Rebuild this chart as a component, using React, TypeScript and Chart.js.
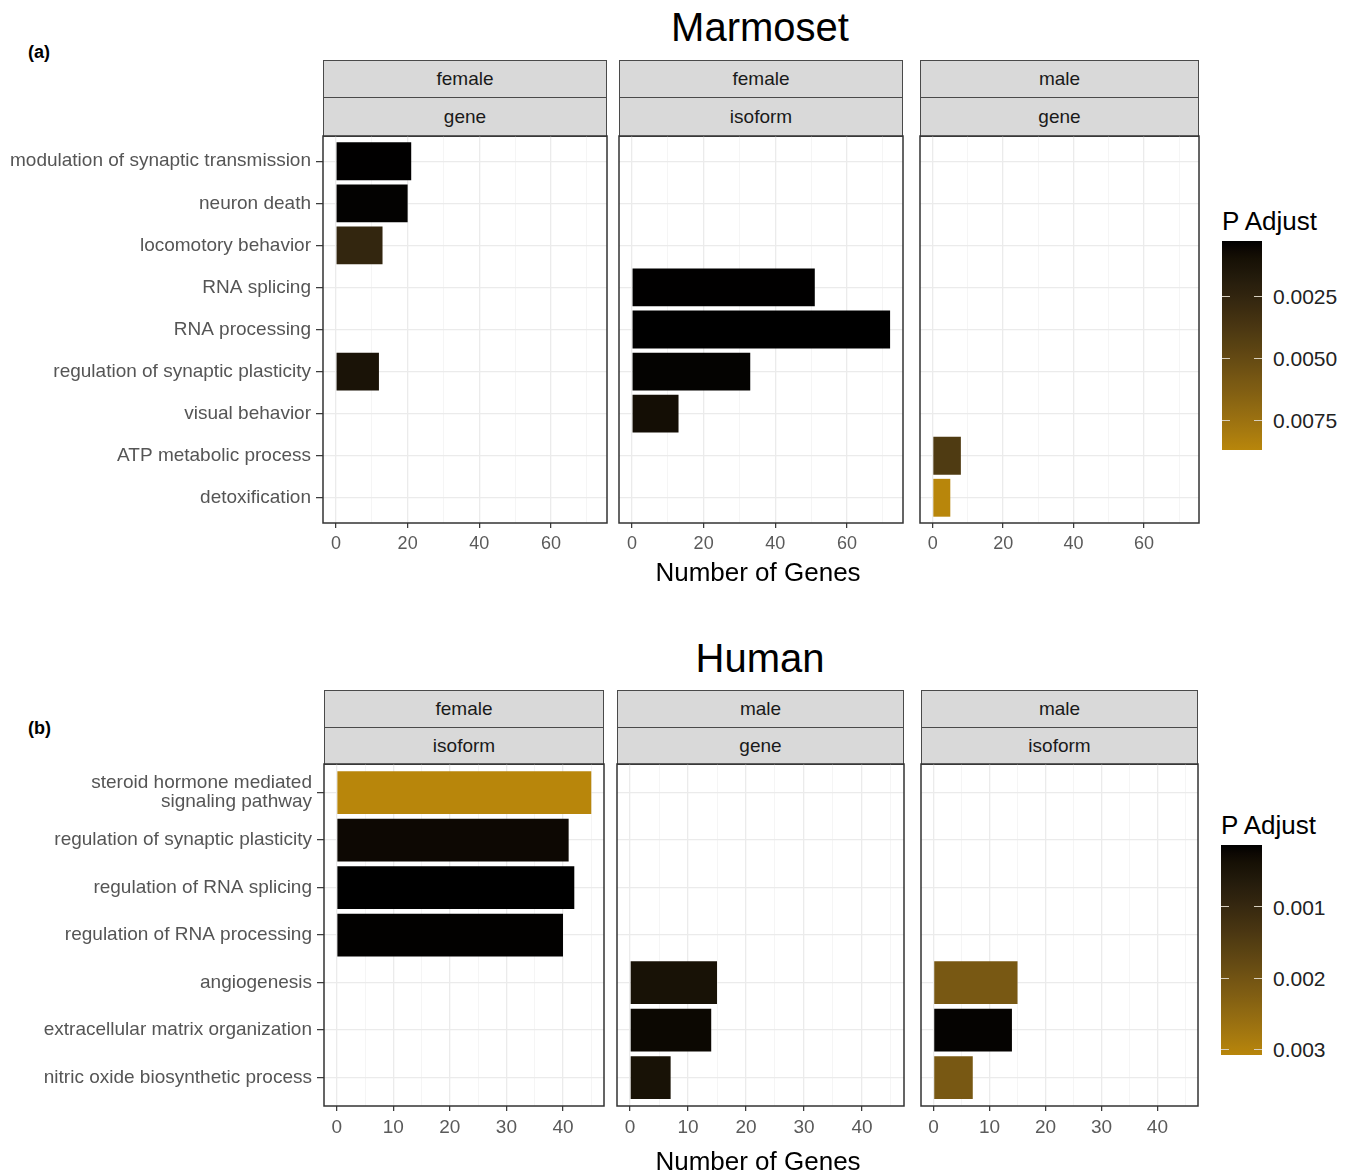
import React, { useEffect, useRef } from 'react';
import { Chart, registerables } from 'chart.js';

Chart.register(...registerables);

const FONT = '"Liberation Sans", Arial, Helvetica, sans-serif';

// ---------------- Marmoset data ----------------
const marmosetCategories = [
  'modulation of synaptic transmission',
  'neuron death',
  'locomotory behavior',
  'RNA splicing',
  'RNA processing',
  'regulation of synaptic plasticity',
  'visual behavior',
  'ATP metabolic process',
  'detoxification',
];
const marmosetFemaleGeneCount = [21, 20, 13, null, null, 12, null, null, null];
const marmosetFemaleGenePAdj = [0.0003, 0.00035, 0.0026, null, null, 0.0012, null, null, null];
const marmosetFemaleIsoformCount = [null, null, null, 51, 72, 33, 13, null, null];
const marmosetFemaleIsoformPAdj = [null, null, null, 0.0003, 0.00028, 0.0004, 0.0009, null, null];
const marmosetMaleGeneCount = [null, null, null, null, null, null, null, 8, 5];
const marmosetMaleGenePAdj = [null, null, null, null, null, null, null, 0.004, 0.0087];
const marmosetMajorTicks = [0, 20, 40, 60];
const marmosetMinorTicks = [10, 30, 50, 70];
const marmosetLegendTicks = [0.0025, 0.005, 0.0075];
const marmosetLegendLabels = ['0.0025', '0.0050', '0.0075'];

// ---------------- Human data ----------------
const humanCategories = [
  ['steroid hormone mediated', 'signaling pathway'],
  'regulation of synaptic plasticity',
  'regulation of RNA splicing',
  'regulation of RNA processing',
  'angiogenesis',
  'extracellular matrix organization',
  'nitric oxide biosynthetic process',
];
const humanFemaleIsoformCount = [45, 41, 42, 40, null, null, null];
const humanFemaleIsoformPAdj = [0.00308, 0.00025, 0.00013, 0.00015, null, null, null];
const humanMaleGeneCount = [null, null, null, null, 15, 14, 7];
const humanMaleGenePAdj = [null, null, null, null, 0.00042, 0.00024, 0.00042];
const humanMaleIsoformCount = [null, null, null, null, 15, 14, 7];
const humanMaleIsoformPAdj = [null, null, null, null, 0.0021, 0.00018, 0.0021];
const humanMajorTicks = [0, 10, 20, 30, 40];
const humanMinorTicks = [5, 15, 25, 35, 45];
const humanLegendTicks = [0.001, 0.002, 0.003];
const humanLegendLabels = ['0.001', '0.002', '0.003'];

// ---------------- colour scale (CIELAB interpolation, like ggplot) ----------------
const LOW_HEX = '#000000';
const HIGH_HEX = '#B8860B';

function hexToRgb(h: string) {
  const n = parseInt(h.slice(1), 16);
  return [(n >> 16) & 255, (n >> 8) & 255, n & 255];
}
function toLin(c: number) {
  c /= 255;
  return c <= 0.04045 ? c / 12.92 : Math.pow((c + 0.055) / 1.055, 2.4);
}
function fromLin(v: number) {
  v = v <= 0.0031308 ? 12.92 * v : 1.055 * Math.pow(v, 1 / 2.4) - 0.055;
  return Math.round(Math.max(0, Math.min(1, v)) * 255);
}
function rgbToLab(rgb: number[]) {
  const [r, g, b] = rgb.map(toLin);
  const X = (0.4124 * r + 0.3576 * g + 0.1805 * b) / 0.95047;
  const Y = 0.2126 * r + 0.7152 * g + 0.0722 * b;
  const Z = (0.0193 * r + 0.1192 * g + 0.9505 * b) / 1.08883;
  const f = (t: number) => (t > 0.008856 ? Math.cbrt(t) : 7.787 * t + 16 / 116);
  const fx = f(X), fy = f(Y), fz = f(Z);
  return [116 * fy - 16, 500 * (fx - fy), 200 * (fy - fz)];
}
function labToRgb(lab: number[]) {
  const [L, a, b] = lab;
  const fy = (L + 16) / 116;
  const fx = fy + a / 500;
  const fz = fy - b / 200;
  const finv = (t: number) => (t * t * t > 0.008856 ? t * t * t : (t - 16 / 116) / 7.787);
  const X = finv(fx) * 0.95047, Y = finv(fy), Z = finv(fz) * 1.08883;
  const r = 3.2406 * X - 1.5372 * Y - 0.4986 * Z;
  const g = -0.9689 * X + 1.8758 * Y + 0.0415 * Z;
  const bb = 0.0557 * X - 0.204 * Y + 1.057 * Z;
  return `rgb(${fromLin(r)},${fromLin(g)},${fromLin(bb)})`;
}
const LOW_LAB = rgbToLab(hexToRgb(LOW_HEX));
const HIGH_LAB = rgbToLab(hexToRgb(HIGH_HEX));
function colorAt(v: number, lo: number, hi: number) {
  const t = Math.max(0, Math.min(1, (v - lo) / (hi - lo)));
  return labToRgb(LOW_LAB.map((l, i) => l + (HIGH_LAB[i] - l) * t));
}

function rangeOf(arrs: (number | null)[][]) {
  const vals = arrs.flat().filter((v) => v != null) as number[];
  return [Math.min(...vals), Math.max(...vals)];
}

type Panel = { x0: number; x1: number; y0: number; y1: number };

const panelBorder = {
  id: 'panelBorder',
  afterDraw(chart: any) {
    const { ctx, chartArea: a } = chart;
    ctx.save();
    ctx.strokeStyle = '#333333';
    ctx.lineWidth = 1.5;
    ctx.strokeRect(a.left, a.top, a.right - a.left, a.bottom - a.top);
    ctx.restore();
  },
};

function Facet(props: {
  panel: Panel;
  canvasLeft: number;
  categories: (string | string[])[];
  counts: (number | null)[];
  padj: (number | null)[];
  colorLimits: number[];
  xRange: number[];
  majorTicks: number[];
  minorTicks: number[];
  showY: boolean;
  xFontSize: number;
}) {
  const ref = useRef<HTMLCanvasElement>(null);
  const { panel, canvasLeft } = props;
  const top = panel.y0 - 4;
  const width = panel.x1 + 4 - canvasLeft;
  const axisH = 44;
  const height = panel.y1 + axisH - top;

  useEffect(() => {
    const { categories, counts, padj, colorLimits, xRange, majorTicks, minorTicks, showY, xFontSize } = props;
    const pts = counts.flatMap((c, i) => (c == null ? [] : [{ x: c, y: i, p: padj[i] as number }]));
    const isMajor = (v: number) => majorTicks.includes(v);
    const chart = new Chart(ref.current as HTMLCanvasElement, {
      type: 'bar',
      data: {
        datasets: [
          {
            data: pts.map((p) => ({ x: p.x, y: p.y })),
            backgroundColor: pts.map((p) => colorAt(p.p, colorLimits[0], colorLimits[1])),
            borderWidth: 0,
            categoryPercentage: 1,
            barPercentage: 0.9,
          } as any,
        ],
      },
      options: {
        indexAxis: 'y',
        responsive: false,
        animation: false,
        events: [],
        layout: { padding: { top: 4, right: 4, left: 0, bottom: 0 }, autoPadding: false } as any,
        plugins: { legend: { display: false }, tooltip: { enabled: false }, title: { display: false } },
        scales: {
          x: {
            type: 'linear',
            min: xRange[0],
            max: xRange[1],
            offset: false,
            afterBuildTicks: (s: any) => {
              s.ticks = [...majorTicks, ...minorTicks].sort((a, b) => a - b).map((v) => ({ value: v }));
            },
            afterFit: (s: any) => {
              s.height = axisH;
              s.paddingLeft = 0;
              s.paddingRight = 0;
            },
            grid: {
              offset: false,
              color: (c: any) => (c.tick && isMajor(c.tick.value) ? '#ebebeb' : '#f3f3f3'),
              lineWidth: (c: any) => (c.tick && isMajor(c.tick.value) ? 1.3 : 0.8),
              tickColor: (c: any) => (c.tick && isMajor(c.tick.value) ? '#333333' : 'rgba(0,0,0,0)'),
              tickWidth: 1.2,
              tickLength: 5,
              drawTicks: true,
            },
            border: { display: false },
            ticks: {
              autoSkip: false,
              maxRotation: 0,
              padding: 5,
              color: '#5a5a5a',
              font: { family: FONT, size: xFontSize },
              callback: (v: any) => (isMajor(Number(v)) ? String(v) : ''),
            },
          } as any,
          y: {
            type: 'linear',
            reverse: true,
            offset: false,
            min: -0.6,
            max: categories.length - 0.4,
            afterBuildTicks: (s: any) => {
              s.ticks = categories.map((_, i) => ({ value: i }));
            },
            afterFit: (s: any) => {
              s.width = panel.x0 - canvasLeft;
              s.paddingTop = 0;
              s.paddingBottom = 0;
            },
            grid: {
              offset: false,
              color: '#ebebeb',
              lineWidth: 1.3,
              drawTicks: showY,
              tickLength: 7,
              tickColor: '#333333',
              tickWidth: 1.2,
            },
            border: { display: false },
            ticks: {
              display: showY,
              autoSkip: false,
              padding: 5,
              color: '#555555',
              font: { family: FONT, size: 19, lineHeight: 1.0 },
              callback: (v: any) => categories[Number(v)] as any,
            },
          } as any,
        },
      },
      plugins: [panelBorder],
    });
    return () => chart.destroy();
  }, []);

  return (
    <canvas
      ref={ref}
      width={width}
      height={height}
      style={{ position: 'absolute', left: canvasLeft, top, width, height }}
    />
  );
}

function Txt(props: {
  x: number;
  y: number;
  size: number;
  color?: string;
  anchor?: 'start' | 'middle' | 'end';
  bold?: boolean;
  children: any;
}) {
  const { x, y, size, color = '#000', anchor = 'middle', bold = false } = props;
  const tx = anchor === 'middle' ? '-50%' : anchor === 'end' ? '-100%' : '0';
  return (
    <div
      style={{
        position: 'absolute',
        left: x,
        top: y,
        transform: `translate(${tx}, -50%)`,
        fontFamily: FONT,
        fontSize: size,
        color,
        whiteSpace: 'nowrap',
        lineHeight: 1,
        fontWeight: bold ? 700 : 400,
      }}
    >
      {props.children}
    </div>
  );
}

function Strips(props: { panel: Panel; labels: string[]; top: number; h1: number; h2: number }) {
  const { panel, labels, top, h1, h2 } = props;
  const w = panel.x1 - panel.x0;
  const boxes = [
    { y: top, h: h1 + 1, text: labels[0] },
    { y: top + h1, h: h2 + 1, text: labels[1] },
  ];
  return (
    <>
      {boxes.map((b, i) => (
        <div
          key={i}
          style={{
            position: 'absolute',
            left: panel.x0,
            top: b.y,
            width: w,
            height: b.h,
            boxSizing: 'border-box',
            background: '#d9d9d9',
            border: '1.5px solid #4a4a4a',
            display: 'flex',
            alignItems: 'center',
            justifyContent: 'center',
            fontFamily: FONT,
            fontSize: 19,
            color: '#1a1a1a',
          }}
        >
          {b.text}
        </div>
      ))}
    </>
  );
}

function ColorBar(props: {
  x: number;
  y: number;
  w: number;
  h: number;
  limits: number[];
  ticks: number[];
  labels: string[];
}) {
  const { x, y, w, h, limits, ticks, labels } = props;
  const stops: string[] = [];
  const n = 24;
  for (let i = 0; i <= n; i++) {
    const v = limits[0] + ((limits[1] - limits[0]) * i) / n;
    stops.push(`${colorAt(v, limits[0], limits[1])} ${((i / n) * 100).toFixed(2)}%`);
  }
  const tickW = w / 5;
  return (
    <>
      <Txt x={x} y={y - 20} size={26} anchor="start">
        P Adjust
      </Txt>
      <div
        style={{
          position: 'absolute',
          left: x,
          top: y,
          width: w,
          height: h,
          background: `linear-gradient(to bottom, ${stops.join(', ')})`,
        }}
      />
      {ticks.map((t, i) => {
        const ty = y + ((t - limits[0]) / (limits[1] - limits[0])) * h;
        return (
          <React.Fragment key={i}>
            <div style={{ position: 'absolute', left: x, top: ty - 0.5, width: tickW, height: 1, background: '#d8d0c0' }} />
            <div
              style={{ position: 'absolute', left: x + w - tickW, top: ty - 0.5, width: tickW, height: 1, background: '#d8d0c0' }}
            />
            <Txt x={x + w + 11} y={ty} size={21} anchor="start" color="#222">
              {labels[i]}
            </Txt>
          </React.Fragment>
        );
      })}
    </>
  );
}

export default function App() {
  const mRange = rangeOf([marmosetFemaleGeneCount, marmosetFemaleIsoformCount, marmosetMaleGeneCount]);
  const mX = [-0.05 * mRange[1], 1.05 * mRange[1]];
  const mCol = rangeOf([marmosetFemaleGenePAdj, marmosetFemaleIsoformPAdj, marmosetMaleGenePAdj]);

  const hRange = rangeOf([humanFemaleIsoformCount, humanMaleGeneCount, humanMaleIsoformCount]);
  const hX = [-0.05 * hRange[1], 1.05 * hRange[1]];
  const hCol = rangeOf([humanFemaleIsoformPAdj, humanMaleGenePAdj, humanMaleIsoformPAdj]);

  const mPanels: Panel[] = [
    { x0: 323, x1: 607, y0: 136, y1: 523 },
    { x0: 619, x1: 903, y0: 136, y1: 523 },
    { x0: 920, x1: 1199, y0: 136, y1: 523 },
  ];
  const hPanels: Panel[] = [
    { x0: 324, x1: 604, y0: 764, y1: 1106 },
    { x0: 617, x1: 904, y0: 764, y1: 1106 },
    { x0: 921, x1: 1198, y0: 764, y1: 1106 },
  ];

  const mData = [
    { counts: marmosetFemaleGeneCount, padj: marmosetFemaleGenePAdj, strips: ['female', 'gene'] },
    { counts: marmosetFemaleIsoformCount, padj: marmosetFemaleIsoformPAdj, strips: ['female', 'isoform'] },
    { counts: marmosetMaleGeneCount, padj: marmosetMaleGenePAdj, strips: ['male', 'gene'] },
  ];
  const hData = [
    { counts: humanFemaleIsoformCount, padj: humanFemaleIsoformPAdj, strips: ['female', 'isoform'] },
    { counts: humanMaleGeneCount, padj: humanMaleGenePAdj, strips: ['male', 'gene'] },
    { counts: humanMaleIsoformCount, padj: humanMaleIsoformPAdj, strips: ['male', 'isoform'] },
  ];

  return (
    <div
      style={{
        position: 'absolute',
        left: 0,
        top: 0,
        width: 1353,
        height: 1173,
        background: '#ffffff',
        overflow: 'hidden',
      }}
    >
      <Txt x={760} y={27} size={40}>
        Marmoset
      </Txt>
      <Txt x={28} y={52} size={18} anchor="start" bold>
        (a)
      </Txt>
      {mData.map((d, i) => (
        <React.Fragment key={'m' + i}>
          <Strips panel={mPanels[i]} labels={d.strips} top={60} h1={37} h2={39} />
          <Facet
            panel={mPanels[i]}
            canvasLeft={i === 0 ? 0 : mPanels[i].x0 - 8}
            categories={marmosetCategories}
            counts={d.counts}
            padj={d.padj}
            colorLimits={mCol}
            xRange={mX}
            majorTicks={marmosetMajorTicks}
            minorTicks={marmosetMinorTicks}
            showY={i === 0}
            xFontSize={18}
          />
        </React.Fragment>
      ))}
      <Txt x={758} y={572} size={26}>
        Number of Genes
      </Txt>
      <ColorBar x={1222} y={241} w={40} h={209} limits={mCol} ticks={marmosetLegendTicks} labels={marmosetLegendLabels} />

      <Txt x={760} y={658} size={40}>
        Human
      </Txt>
      <Txt x={28} y={728} size={18} anchor="start" bold>
        (b)
      </Txt>
      {hData.map((d, i) => (
        <React.Fragment key={'h' + i}>
          <Strips panel={hPanels[i]} labels={d.strips} top={690} h1={37} h2={37} />
          <Facet
            panel={hPanels[i]}
            canvasLeft={i === 0 ? 0 : hPanels[i].x0 - 8}
            categories={humanCategories}
            counts={d.counts}
            padj={d.padj}
            colorLimits={hCol}
            xRange={hX}
            majorTicks={humanMajorTicks}
            minorTicks={humanMinorTicks}
            showY={i === 0}
            xFontSize={19}
          />
        </React.Fragment>
      ))}
      <Txt x={758} y={1161} size={26}>
        Number of Genes
      </Txt>
      <ColorBar x={1221} y={845} w={41} h={210} limits={hCol} ticks={humanLegendTicks} labels={humanLegendLabels} />
    </div>
  );
}
